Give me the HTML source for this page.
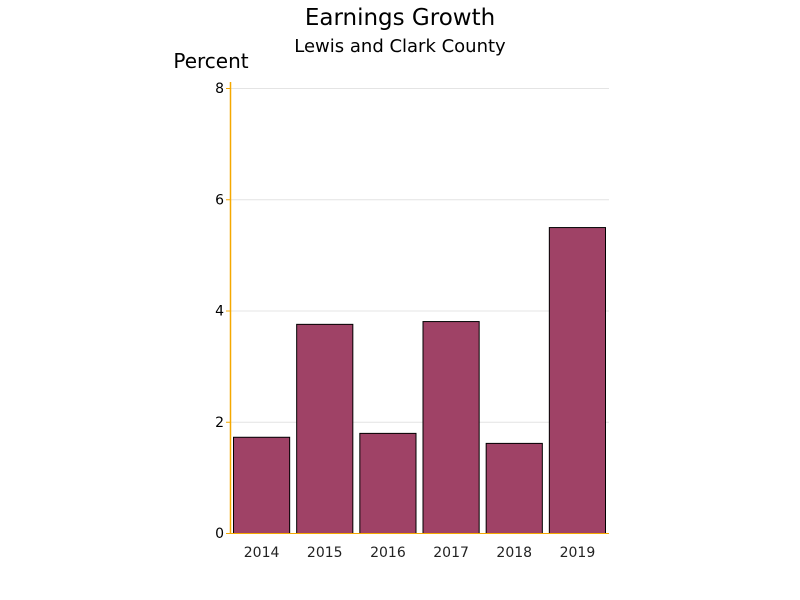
<!DOCTYPE html>
<html><head><meta charset="utf-8"><style>
html,body{margin:0;padding:0;background:#fff;}
svg{display:block;font-family:"DejaVu Sans","Liberation Sans",sans-serif;}
</style></head><body>
<svg id="chart" width="800" height="600" viewBox="0 0 800 600">
<text x="400" y="25" text-anchor="middle" font-size="23" fill="#000">Earnings Growth</text>
<text x="400" y="52" text-anchor="middle" font-size="18" fill="#000">Lewis and Clark County</text>
<text x="211" y="68" text-anchor="middle" font-size="20" fill="#000">Percent</text>
<g id="grid"></g><g id="bars"></g><g id="axes"></g>
</svg>
<script>
const categories = ["2014","2015","2016","2017","2018","2019"];
const values = [1.73, 3.76, 1.80, 3.81, 1.62, 5.50];
const yTicks = [0, 2, 4, 6, 8];
const NS = "http://www.w3.org/2000/svg";
const plotLeft = 230, plotRight = 609, plotTop = 88, plotBottom = 533, yMax = 8;
const band = (plotRight - plotLeft) / categories.length;
function yScale(v){ return plotBottom - (v / yMax) * (plotBottom - plotTop); }
function xScale(i){ return plotLeft + i * band; }
function mk(tag, attrs, parent){ const e = document.createElementNS(NS, tag); for (const k in attrs) e.setAttribute(k, attrs[k]); parent.appendChild(e); return e; }
const gridG = document.getElementById("grid"), barsG = document.getElementById("bars"), axesG = document.getElementById("axes");
yTicks.forEach(t => {
  if (t > 0) {
    const g = mk("line", {x1:plotLeft, x2:plotRight, y1:yScale(t)+0.5, y2:yScale(t)+0.5, stroke:"#e4e4e4", "stroke-width":1}, gridG);
    
    
  }
  const tk = mk("line", {x1:plotLeft-4, x2:plotLeft, y1:yScale(t)+0.5, y2:yScale(t)+0.5, stroke:"#f5a800", "stroke-width":1}, axesG);
  
  
  const lb = mk("text", {x:plotLeft-6, y:yScale(t)+5, "text-anchor":"end", "font-size":14, fill:"#000"}, axesG);
  lb.textContent = t;
  
  
});
categories.forEach((c, i) => {
  const bx = xScale(i) + 3, bw = band - 6;
  const r = mk("rect", {x:bx+0.5, y:yScale(values[i])+0.5, width:bw-1, height:plotBottom - yScale(values[i]), fill:"#9f4266", stroke:"#000", "stroke-width":1}, barsG);
  
  
  const lb = mk("text", {x:xScale(i) + band/2, y:557, "text-anchor":"middle", "font-size":14, fill:"#222"}, axesG);
  lb.textContent = c;
  
  
});
const ya = mk("line", {x1:plotLeft+0.5, x2:plotLeft+0.5, y1:82, y2:plotBottom+1, stroke:"#f5a800", "stroke-width":1.5}, axesG);


const xa = mk("line", {x1:plotLeft, x2:plotRight, y1:plotBottom+0.5, y2:plotBottom+0.5, stroke:"#f5a800", "stroke-width":1}, axesG);


</script>
</body></html>
